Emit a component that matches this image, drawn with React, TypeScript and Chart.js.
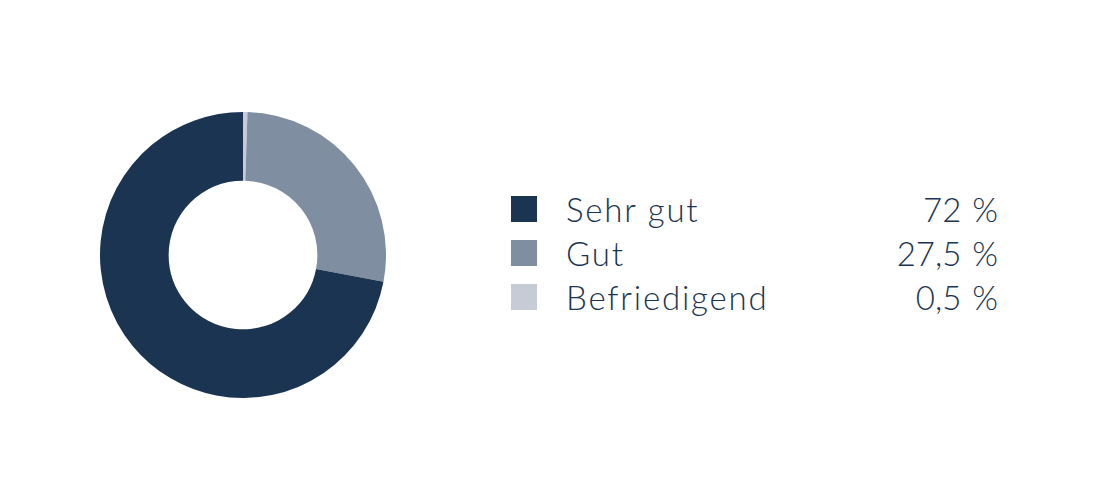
import React, { useEffect, useRef } from 'react';
import { Chart, registerables } from 'chart.js';

Chart.register(...registerables);

// Legend order (top to bottom)
const categories = ['Sehr gut', 'Gut', 'Befriedigend'];
const values = [72, 27.5, 0.5];
const valueLabels = ['72 %', '27,5 %', '0,5 %'];
const colors = ['#1b3452', '#7f8ea0', '#c5ccd5'];

const textColor = '#1b3452';

const App: React.FC = () => {
  const chartRef = useRef<HTMLCanvasElement | null>(null);
  const chartInstance = useRef<Chart | null>(null);

  useEffect(() => {
    if (!chartRef.current) return;
    if (chartInstance.current) chartInstance.current.destroy();

    // ring is drawn clockwise from the top: Befriedigend, Gut, Sehr gut
    const order = [2, 1, 0];

    chartInstance.current = new Chart(chartRef.current, {
      type: 'doughnut',
      data: {
        labels: order.map(i => categories[i]),
        datasets: [
          {
            data: order.map(i => values[i]),
            backgroundColor: order.map(i => colors[i]),
            borderWidth: 0,
          },
        ],
      },
      options: {
        responsive: true,
        maintainAspectRatio: false,
        animation: false,
        cutout: '52%',
        layout: { padding: 0 },
        plugins: {
          legend: { display: false },
          tooltip: { enabled: false },
        },
      },
    });

    return () => {
      if (chartInstance.current) {
        chartInstance.current.destroy();
        chartInstance.current = null;
      }
    };
  }, []);

  return (
    <div
      style={{
        position: 'absolute',
        left: 0,
        top: 0,
        width: 1100,
        height: 500,
        background: '#ffffff',
        fontFamily: 'Lato, "Open Sans", sans-serif',
        color: textColor,
      }}
    >
      <div style={{ position: 'absolute', left: 100, top: 112, width: 286, height: 286 }}>
        <canvas ref={chartRef} />
      </div>
      {categories.map((cat, i) => (
        <div
          key={cat}
          style={{
            position: 'absolute',
            left: 511,
            top: 187 + i * 44,
            width: 487,
            height: 44,
            display: 'flex',
            alignItems: 'center',
            fontSize: 33,
            fontWeight: 300,
          }}
        >
          <span
            style={{
              display: 'inline-block',
              width: 26,
              height: 26,
              background: colors[i],
              marginRight: 29,
              flex: 'none',
            }}
          />
          <span style={{ flex: 1, letterSpacing: 1.8, whiteSpace: 'nowrap' }}>{cat}</span>
          <span style={{ whiteSpace: 'nowrap', wordSpacing: 2 }}>{valueLabels[i]}</span>
        </div>
      ))}
    </div>
  );
};

export default App;
